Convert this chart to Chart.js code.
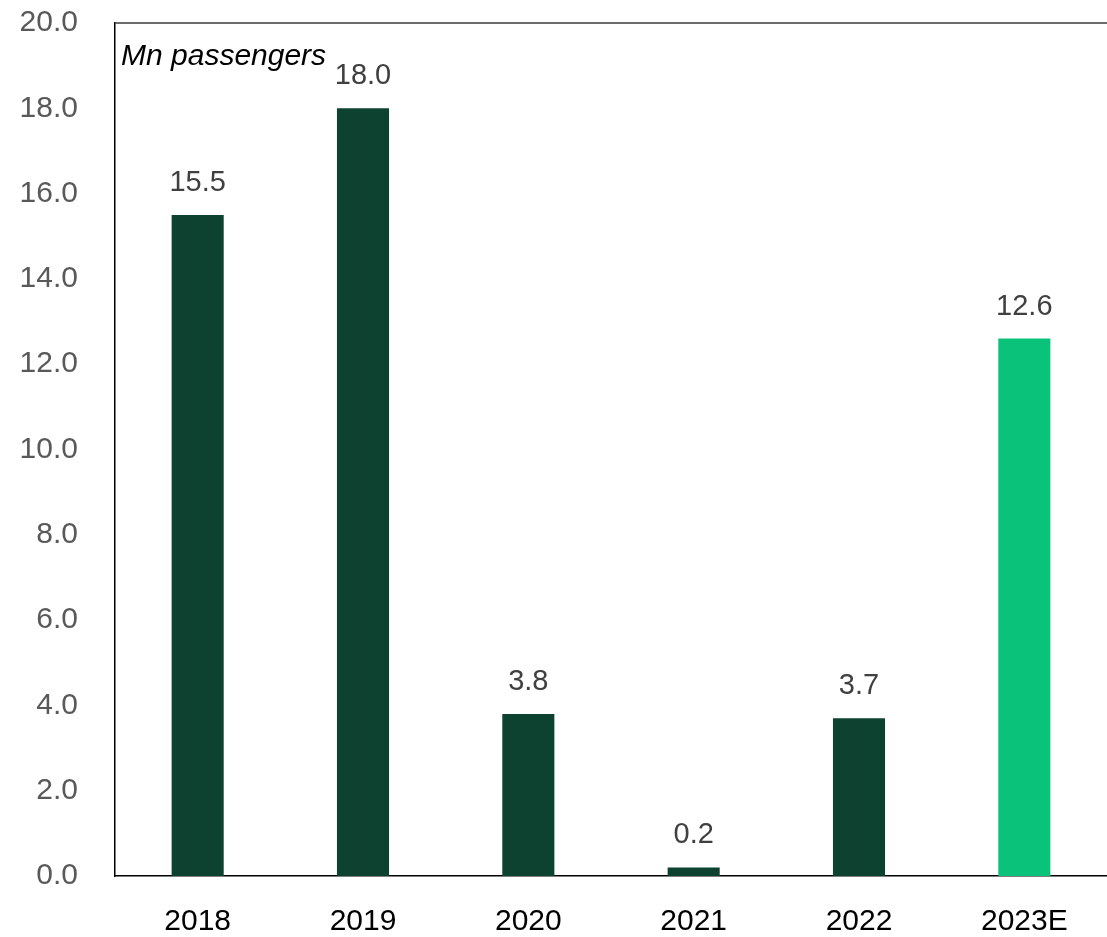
<!DOCTYPE html>
<html>
<head>
<meta charset="utf-8">
<script src="https://cdn.jsdelivr.net/npm/chart.js@4/dist/chart.umd.min.js"></script>
<style>
    html, body { margin: 0; padding: 0; background: #fff; }
    #chartWrap { width: 1107px; height: 937px; position: relative; }
</style>
</head>
<body>
<div id="chartWrap"><canvas id="passengerchart"></canvas></div>
<script>
var Years = ["2018", "2019", "2020", "2021", "2022", "2023E"];
var Passengers = [15.5, 18.0, 3.8, 0.2, 3.7, 12.6];
var BarColors = ["#0d4230", "#0d4230", "#0d4230", "#0d4230", "#0d4230", "#0bc27b"];
var YTicks = [0, 2, 4, 6, 8, 10, 12, 14, 16, 18, 20];
var UnitLabel = "Mn passengers";

var FontName = "Arial, 'Liberation Sans', sans-serif";

// value labels above bars, unit caption and the top frame line
var barLabelPlugin = {
    id: 'barLabels',
    afterDatasetsDraw: function (chart) {
        var ctx = chart.ctx;
        var area = chart.chartArea;
        var meta = chart.getDatasetMeta(0);
        ctx.save();
        ctx.font = "29px " + FontName;
        ctx.fillStyle = "#404040";
        ctx.textAlign = "center";
        ctx.textBaseline = "middle";
        meta.data.forEach(function (bar, i) {
            ctx.fillText(Passengers[i].toFixed(1), bar.x, bar.y - 32);
        });

        ctx.font = "italic 30px " + FontName;
        ctx.fillStyle = "#000";
        ctx.textAlign = "left";
        ctx.textBaseline = "alphabetic";
        ctx.fillText(UnitLabel, area.left + 6, area.top + 42);

        ctx.strokeStyle = "#3a3a3a";
        ctx.lineWidth = 1.5;
        ctx.beginPath();
        ctx.moveTo(area.left, area.top);
        ctx.lineTo(chart.width, area.top);
        ctx.stroke();
        ctx.restore();
    }
};

function BindBarChart() {
    var passengerChart = document.getElementById("passengerchart");
    new Chart(passengerChart, {
        type: 'bar',
        plugins: [barLabelPlugin],
        data: {
            labels: Years,
            datasets: [
                {
                    data: Passengers,
                    backgroundColor: BarColors,
                    borderWidth: 0,
                    barPercentage: 0.315,
                    categoryPercentage: 1.0
                }
            ]
        },
        options: {
            responsive: true,
            maintainAspectRatio: false,
            animation: false,
            layout: {
                autoPadding: false,
                padding: { top: 23, right: 0, bottom: 0, left: 0 }
            },
            plugins: {
                legend: { display: false },
                tooltip: { enabled: false },
                title: { display: false }
            },
            scales: {
                x: {
                    grid: { display: false, drawTicks: false },
                    border: { display: true, color: "#000", width: 1.5 },
                    ticks: {
                        color: "#000",
                        padding: 28,
                        font: { family: FontName, size: 30 }
                    },
                    afterFit: function (scale) {
                        scale.height = 61;
                        scale.paddingLeft = 0;
                        scale.paddingRight = 0;
                    }
                },
                y: {
                    min: 0,
                    max: 20,
                    grid: { display: false, drawTicks: false },
                    border: { display: true, color: "#000", width: 1.5 },
                    afterBuildTicks: function (scale) {
                        scale.ticks = YTicks.map(function (v) { return { value: v }; });
                    },
                    ticks: {
                        color: "#595959",
                        padding: 37,
                        font: { family: FontName, size: 30 },
                        callback: function (value) { return Number(value).toFixed(1); }
                    },
                    afterFit: function (scale) {
                        scale.width = 115;
                        scale.paddingTop = 0;
                        scale.paddingBottom = 0;
                    }
                }
            }
        }
    });
}

BindBarChart();
</script>
</body>
</html>
